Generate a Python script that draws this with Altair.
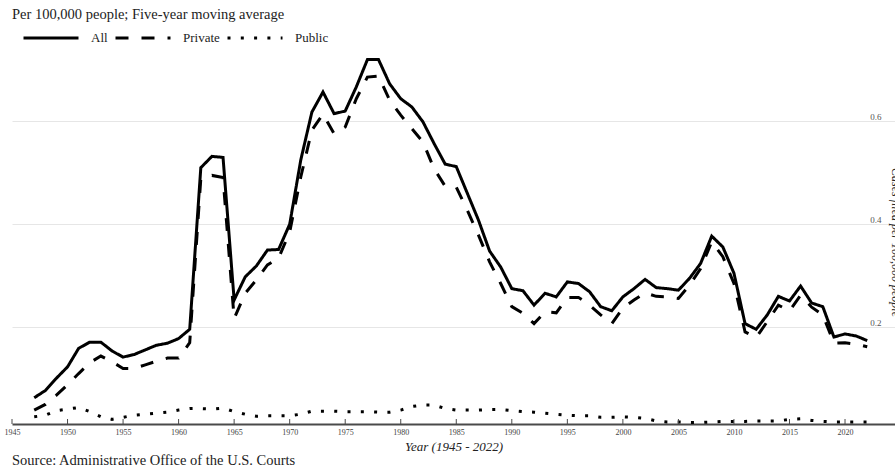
import altair as alt
import pandas as pd

# Federal cases filed per 100,000 people, five-year moving average
years = list(range(1947, 2023))

all_cases = [
    0.063, 0.077, 0.101, 0.123, 0.159, 0.171, 0.171, 0.154, 0.142, 0.147,
    0.156, 0.165, 0.169, 0.178, 0.196, 0.510, 0.532, 0.530, 0.253, 0.298,
    0.319, 0.350, 0.351, 0.400, 0.525, 0.618, 0.657, 0.615, 0.620, 0.667,
    0.720, 0.720, 0.673, 0.644, 0.628, 0.599, 0.557, 0.517, 0.512, 0.460,
    0.408, 0.348, 0.317, 0.275, 0.271, 0.243, 0.266, 0.259, 0.288, 0.285,
    0.269, 0.240, 0.232, 0.259, 0.275, 0.293, 0.277, 0.275, 0.272, 0.295,
    0.324, 0.377, 0.356, 0.305, 0.207, 0.196, 0.224, 0.260, 0.251, 0.280,
    0.247, 0.240, 0.181, 0.187, 0.183, 0.174,
]

private_cases = [
    0.039, 0.050, 0.068, 0.088, 0.110, 0.131, 0.144, 0.133, 0.120, 0.120,
    0.127, 0.134, 0.140, 0.140, 0.170, 0.489, 0.495, 0.491, 0.217, 0.266,
    0.292, 0.321, 0.334, 0.385, 0.492, 0.583, 0.614, 0.576, 0.589, 0.644,
    0.686, 0.688, 0.641, 0.612, 0.586, 0.560, 0.508, 0.474, 0.472, 0.427,
    0.379, 0.327, 0.285, 0.240, 0.227, 0.207, 0.230, 0.228, 0.258, 0.258,
    0.243, 0.224, 0.207, 0.237, 0.253, 0.267, 0.260, 0.259, 0.256, 0.282,
    0.314, 0.366, 0.337, 0.285, 0.191, 0.180, 0.211, 0.243, 0.232, 0.262,
    0.239, 0.224, 0.169, 0.170, 0.167, 0.162,
]

public_cases = [
    0.026, 0.029, 0.038, 0.041, 0.044, 0.036, 0.026, 0.021, 0.025, 0.029,
    0.031, 0.033, 0.035, 0.039, 0.042, 0.042, 0.041, 0.043, 0.036, 0.031,
    0.027, 0.028, 0.028, 0.028, 0.031, 0.037, 0.037, 0.037, 0.036, 0.036,
    0.036, 0.035, 0.035, 0.039, 0.046, 0.049, 0.049, 0.042, 0.039, 0.039,
    0.039, 0.040, 0.040, 0.038, 0.036, 0.035, 0.033, 0.031, 0.029, 0.028,
    0.028, 0.025, 0.025, 0.026, 0.025, 0.023, 0.018, 0.016, 0.016, 0.015,
    0.015, 0.016, 0.017, 0.017, 0.017, 0.018, 0.018, 0.018, 0.021, 0.022,
    0.019, 0.017, 0.016, 0.016, 0.016, 0.016,
]

series_names = ["All", "Private", "Public"]
tick_years = list(range(1945, 2025, 5))
y_ticks = [0.2, 0.4, 0.6]

header_text = "Per 100,000 people; Five-year moving average"
source_text = "Source:  Administrative Office of the U.S. Courts"

W, H = 883, 368
SERIF = "Liberation Serif"

rows = []
for name, vals in zip(series_names, [all_cases, private_cases, public_cases]):
    for yr, v in zip(years, vals):
        rows.append({"year": yr, "series": name, "value": v})
df = pd.DataFrame(rows)

x_scale = alt.Scale(domain=[1945, 2024.5], nice=False, zero=False)
y_scale = alt.Scale(domain=[0.012, 0.727], nice=False, zero=False)

lines = alt.Chart(df).mark_line(color="black", strokeWidth=3, strokeCap="butt").encode(
    x=alt.X(
        "year:Q",
        scale=x_scale,
        axis=alt.Axis(
            values=tick_years,
            format="d",
            ticks=False,
            grid=False,
            domainColor="#4a4a4a",
            domainWidth=2,
            labelFont=SERIF,
            labelFontSize=8,
            labelColor="#444",
            labelPadding=4,
            labelFlush=False,
            labelOverlap=False,
            title="Year (1945 - 2022)",
            titleFont=SERIF,
            titleFontSize=13,
            titleFontStyle="italic",
            titleFontWeight="normal",
            titleColor="#222",
            titlePadding=4,
        ),
    ),
    y=alt.Y(
        "value:Q",
        scale=y_scale,
        axis=alt.Axis(
            orient="right",
            values=y_ticks,
            format=".1f",
            ticks=False,
            domain=False,
            grid=True,
            gridColor="#e6e6e6",
            gridWidth=1,
            labelAlign="right",
            labelBaseline="alphabetic",
            labelPadding=-14,
            labelOffset=-2,
            labelFont=SERIF,
            labelFontSize=9,
            labelColor="#555",
            labelFlush=False,
            title="Cases filed per 100,000 people",
            titleFont=SERIF,
            titleFontSize=12,
            titleFontStyle="italic",
            titleFontWeight="normal",
            titleColor="#222",
            titleAngle=90,
            titleAlign="center",
            titleBaseline="alphabetic",
            titleX=-4,
            titleY=186,
        ),
    ),
    strokeDash=alt.StrokeDash(
        "series:N",
        sort=series_names,
        scale=alt.Scale(domain=series_names, range=[[1, 0], [13, 13], [3, 10.3]]),
        legend=alt.Legend(
            title=None,
            orient="none",
            direction="horizontal",
            legendX=10,
            legendY=-47,
            symbolType="stroke",
            symbolSize=3025,
            symbolStrokeWidth=3,
            symbolStrokeColor="black",
            labelFont=SERIF,
            labelFontSize=13,
            labelColor="#222",
            labelOffset=11,
            columnPadding=1,
        ),
    ),
)

tick_df = pd.DataFrame({"year": tick_years})
ticks = alt.Chart(tick_df).mark_rule(color="#4a4a4a", strokeWidth=1).encode(
    x=alt.X("year:Q", scale=x_scale),
    y=alt.value(H - 5),
    y2=alt.value(H),
)

header = alt.Chart(pd.DataFrame({"t": [header_text]})).mark_text(
    align="left", baseline="alphabetic", font=SERIF, fontSize=14.5, color="#222"
).encode(text="t:N", x=alt.value(0), y=alt.value(-37))

source = alt.Chart(pd.DataFrame({"t": [source_text]})).mark_text(
    align="left", baseline="alphabetic", font=SERIF, fontSize=14.5, color="#222"
).encode(text="t:N", x=alt.value(0), y=alt.value(409))

chart = (
    alt.layer(lines, ticks, header, source)
    .properties(
        width=W,
        height=H,
        autosize=alt.AutoSizeParams(type="none"),
        padding={"left": 12, "top": 56, "right": 0, "bottom": 45},
        background="white",
    )
    .configure_view(stroke=None)
)

chart.save("out.html", embed_options={"renderer": "svg", "actions": False})
